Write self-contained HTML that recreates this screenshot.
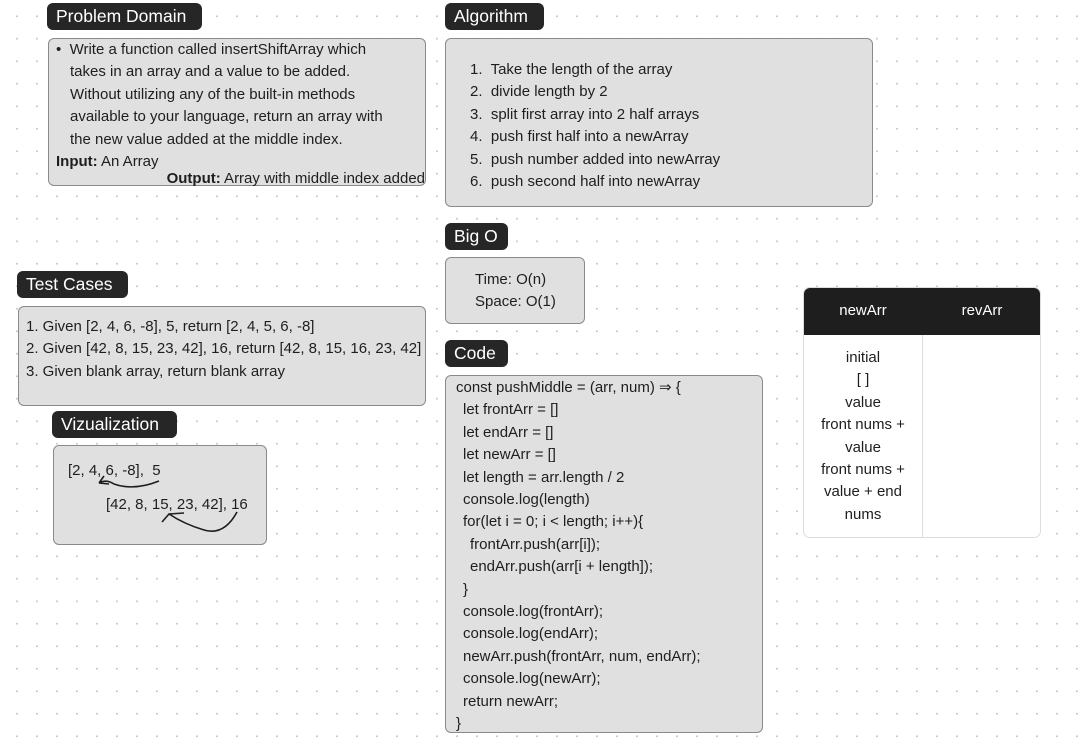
<!DOCTYPE html>
<html><head><meta charset="utf-8"><style>
body{margin:0;width:1085px;height:742px;overflow:hidden;background:#fff;
background-image:radial-gradient(circle,#c8c8c8 0.8px,transparent 1.2px);background-size:20px 22.5px;background-position:7px 5px;
font-family:"Liberation Sans",sans-serif;color:#1e1e1e;position:relative}
.lab{position:absolute;background:#262626;color:#fff;border-radius:6px;font-size:17.5px;line-height:27px;padding:0 9px;box-sizing:border-box;height:27px}
.box{position:absolute;background:#e0e0e0;border:1px solid #8a8a8a;border-radius:6px;box-sizing:border-box;font-size:15px;line-height:22.4px}
.l{position:absolute;white-space:nowrap}
</style></head><body>
<div class="lab" style="left:47px;top:3px;width:155px">Problem Domain</div>
<div class="box" style="left:48px;top:38px;width:378px;height:148px">
<div class="l" style="left:7px;top:0px">•&nbsp; Write a function called insertShiftArray which</div>
<div class="l" style="left:21px;top:22.4px">takes in an array and a value to be added.</div>
<div class="l" style="left:21px;top:44.8px">Without utilizing any of the built-in methods</div>
<div class="l" style="left:21px;top:67.2px">available to your language, return an array with</div>
<div class="l" style="left:21px;top:89.6px">the new value added at the middle index.</div>
<div class="l" style="left:7px;top:112px"><b>Input:</b> An Array</div>
<div class="l" style="right:0px;top:129px"><b>Output:</b> Array with middle index added</div>
</div>

<div class="lab" style="left:445px;top:3px;width:99px">Algorithm</div>
<div class="box" style="left:445px;top:38px;width:428px;height:169px">
<div class="l" style="left:24px;top:20px">1.&nbsp; Take the length of the array</div>
<div class="l" style="left:24px;top:42.4px">2.&nbsp; divide length by 2</div>
<div class="l" style="left:24px;top:64.8px">3.&nbsp; split first array into 2 half arrays</div>
<div class="l" style="left:24px;top:87.2px">4.&nbsp; push first half into a newArray</div>
<div class="l" style="left:24px;top:109.6px">5.&nbsp; push number added into newArray</div>
<div class="l" style="left:24px;top:132px">6.&nbsp; push second half into newArray</div>
</div>

<div class="lab" style="left:445px;top:223px;width:63px">Big O</div>
<div class="box" style="left:445px;top:257px;width:140px;height:67px">
<div class="l" style="left:29px;top:11px">Time: O(n)</div>
<div class="l" style="left:29px;top:33.4px">Space: O(1)</div>
</div>

<div class="lab" style="left:445px;top:340px;width:63px">Code</div>
<div class="box" style="left:445px;top:375px;width:318px;height:358px">
<div class="l" style="left:10px;top:1px">const pushMiddle = (arr, num) ⇒ {</div>
<div class="l" style="left:17px;top:23.4px">let frontArr = []</div>
<div class="l" style="left:17px;top:45.8px">let endArr = []</div>
<div class="l" style="left:17px;top:68.2px">let newArr = []</div>
<div class="l" style="left:17px;top:90.6px">let length = arr.length / 2</div>
<div class="l" style="left:17px;top:113px">console.log(length)</div>
<div class="l" style="left:17px;top:135.4px">for(let i = 0; i &lt; length; i++){</div>
<div class="l" style="left:24px;top:157.8px">frontArr.push(arr[i]);</div>
<div class="l" style="left:24px;top:180.2px">endArr.push(arr[i + length]);</div>
<div class="l" style="left:17px;top:202.6px">}</div>
<div class="l" style="left:17px;top:225px">console.log(frontArr);</div>
<div class="l" style="left:17px;top:247.4px">console.log(endArr);</div>
<div class="l" style="left:17px;top:269.8px">newArr.push(frontArr, num, endArr);</div>
<div class="l" style="left:17px;top:292.2px">console.log(newArr);</div>
<div class="l" style="left:17px;top:314.6px">return newArr;</div>
<div class="l" style="left:10px;top:337px">}</div>
</div>

<div class="lab" style="left:17px;top:271px;width:111px">Test Cases</div>
<div class="box" style="left:18px;top:306px;width:408px;height:100px">
<div class="l" style="left:7px;top:9px">1. Given [2, 4, 6, -8], 5, return [2, 4, 5, 6, -8]</div>
<div class="l" style="left:7px;top:31.4px">2. Given [42, 8, 15, 23, 42], 16, return [42, 8, 15, 16, 23, 42]</div>
<div class="l" style="left:7px;top:53.8px">3. Given blank array, return blank array</div>
</div>

<div class="lab" style="left:52px;top:411px;width:125px">Vizualization</div>
<div class="box" style="left:53px;top:445px;width:214px;height:100px">
<div class="l" style="left:14px;top:14px">[2, 4, 6, -8],&nbsp; 5</div>
<div class="l" style="left:52px;top:48px">[42, 8, 15, 23, 42], 16</div>
<svg style="position:absolute;left:0;top:0" width="214" height="100" fill="none" stroke="#1e1e1e" stroke-width="1.6">
<path d="M105 35 Q80 45 60 38 Q52 33 45 37 M45 37 L50 30 M45 37 L55 38"/>
<path d="M183 66 Q170 90 150 84 Q130 78 115 68 L108 76 M115 68 L130 67"/>
</svg>
</div>

<div style="position:absolute;left:803px;top:287px;width:238px;height:251px;border:1px solid #ddd;border-radius:7px;background:#fff;box-sizing:border-box;overflow:hidden">
<div style="position:absolute;left:0;top:0;width:100%;height:47px;background:#1e1e1e"></div>
<div style="position:absolute;left:118px;top:47px;width:1px;height:100%;background:#ddd"></div>
<div class="l" style="left:0;width:118px;text-align:center;top:14px;color:#fff;font-size:15px">newArr</div>
<div class="l" style="left:119px;width:118px;text-align:center;top:14px;color:#fff;font-size:15px">revArr</div>
<div style="position:absolute;left:0;width:118px;top:59px;text-align:center;font-size:15px;line-height:22.4px">initial<br>[ ]<br>value<br>front nums +<br>value<br>front nums +<br>value + end<br>nums</div>
</div>
</body></html>
